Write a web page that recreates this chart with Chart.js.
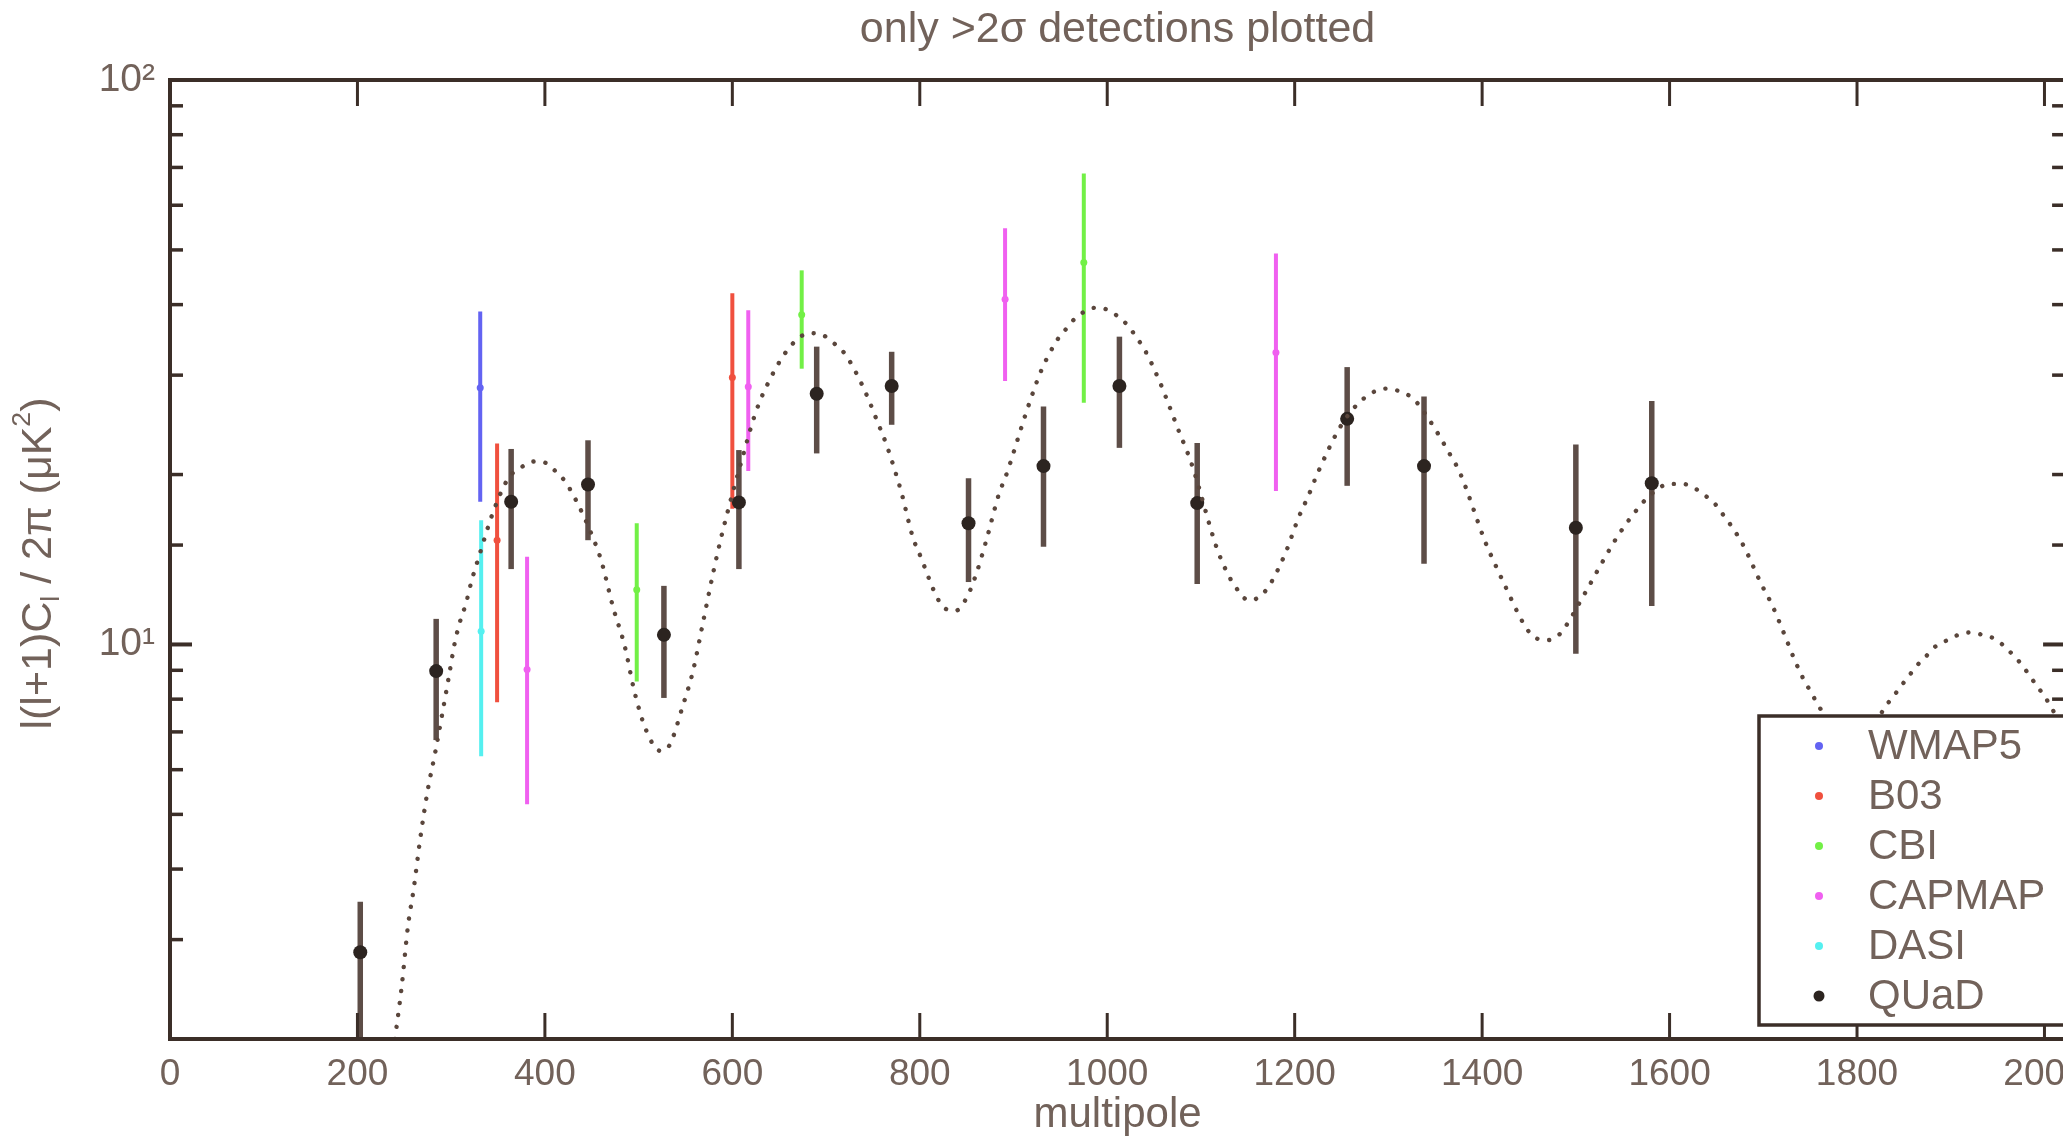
<!DOCTYPE html>
<html>
<head>
<meta charset="utf-8">
<script src="https://cdn.jsdelivr.net/npm/chart.js@4.4.1/dist/chart.umd.min.js"></script>
<style>
  html, body { margin: 0; padding: 0; background: #ffffff; overflow: hidden; width: 2063px; height: 1136px; }
  #wrap { position: absolute; left: 0; top: 0; width: 2100px; height: 1136px; }
</style>
</head>
<body>
<div id="wrap"><canvas id="cl"></canvas></div>
<script>
// ---- text ----
const titleText = 'only >2\u03c3 detections plotted';
const xTitleText = 'multipole';
const xTickValues = [0, 200, 400, 600, 800, 1000, 1200, 1400, 1600, 1800, 2000];
const yTickLabels = { 10: '10\u00b9', 100: '10\u00b2' };
const experiments = ['WMAP5', 'B03', 'CBI', 'CAPMAP', 'DASI', 'QUaD'];

// ---- band powers (multipole, value, lower and upper end of error bar) ----
const wmapEll = [331];
const wmapVal = [28.5];
const wmapLo  = [17.9];
const wmapHi  = [38.9];

const b03Ell = [349, 600];
const b03Val = [15.3, 29.7];
const b03Lo  = [7.9, 17.4];
const b03Hi  = [22.7, 41.9];

const cbiEll = [498, 674, 975];
const cbiVal = [12.5, 38.4, 47.5];
const cbiLo  = [8.6, 30.8, 26.8];
const cbiHi  = [16.4, 46.0, 68.3];

const capmapEll = [381, 617, 891, 1180];
const capmapVal = [9.03, 28.6, 40.9, 32.9];
const capmapLo  = [5.21, 20.3, 29.3, 18.7];
const capmapHi  = [14.3, 39.1, 54.6, 49.3];

const dasiEll = [332];
const dasiVal = [10.55];
const dasiLo  = [6.34];
const dasiHi  = [16.6];

const quadEll = [203, 284, 364, 446, 527, 607, 690, 770, 852, 932, 1013, 1096, 1256, 1338, 1500, 1581];
const quadVal = [2.85, 8.97, 17.9, 19.2, 10.4, 17.85, 27.8, 28.7, 16.4, 20.7, 28.7, 17.8, 25.1, 20.7, 16.1, 19.3];
const quadLo  = [1.5, 6.77, 13.6, 15.3, 8.04, 13.6, 21.8, 24.5, 12.9, 14.9, 22.3, 12.8, 19.1, 13.9, 9.63, 11.7];
const quadHi  = [3.5, 11.1, 22.2, 23.0, 12.7, 22.1, 33.7, 33.0, 19.7, 26.4, 35.1, 22.75, 31.0, 27.5, 22.6, 27.0];

// ---- model EE spectrum (dotted curve) ----
const modelEll = [240, 247, 254, 260, 267, 275, 283, 297, 304, 311, 315, 322, 329, 345, 361, 373, 389, 400, 411, 421,
  434, 451, 460, 473, 485, 496, 508, 523, 533, 547, 558, 569, 580, 589, 611, 624, 634, 661, 683, 697,
  709, 719, 732, 744, 754, 764, 772, 780, 793, 798, 825, 838, 850, 860, 871, 885, 891, 915, 929, 947,
  956, 965, 988, 1003, 1013, 1023, 1031, 1039, 1056, 1066, 1075, 1090, 1117, 1127, 1134, 1151, 1161, 1172, 1190, 1204,
  1215, 1225, 1250, 1274, 1298, 1314, 1327, 1345, 1364, 1376, 1404, 1414, 1421, 1447, 1457, 1470, 1482, 1510, 1523, 1543,
  1560, 1578, 1600, 1614, 1627, 1639, 1649, 1658, 1665, 1679, 1696, 1702, 1708, 1719, 1724, 1734, 1744, 1751, 1758, 1765,
  1782, 1797, 1812, 1830, 1839, 1847, 1855, 1864, 1873, 1882, 1894, 1906, 1920, 1934, 1947, 1957, 1967, 1976, 1984, 1992,
  2000, 2007, 2022];
const modelCl = [2.0, 2.46, 3.18, 3.69, 4.53, 5.52, 6.44, 8.67, 10.1, 11.2, 11.7, 13.0, 14.2, 17.2, 19.7, 20.5, 21.1, 21.0, 20.3, 19.5,
  17.9, 15.5, 14.1, 11.6, 9.96, 8.19, 7.05, 6.48, 6.63, 7.77, 8.97, 11.0, 13.5, 15.7, 21.5, 25.5, 28.1, 33.6, 35.6, 35.3,
  34.1, 32.9, 30.3, 27.5, 25.0, 22.7, 20.7, 18.7, 15.4, 14.7, 11.66, 11.47, 12.1, 13.3, 15.3, 18.6, 19.7, 26.2, 30.4, 34.7,
  36.2, 37.7, 39.5, 39.0, 37.9, 36.6, 35.0, 33.5, 29.2, 26.5, 24.2, 20.9, 14.8, 13.5, 12.86, 11.98, 12.1, 12.65, 14.5, 16.75,
  18.4, 20.2, 24.5, 27.3, 28.4, 28.0, 27.2, 24.8, 21.96, 20.2, 15.1, 13.85, 13.07, 10.7, 10.27, 10.18, 10.4, 12.35, 13.5, 15.4,
  16.9, 18.3, 19.25, 19.25, 18.9, 18.3, 17.7, 16.9, 16.3, 14.95, 12.99, 12.4, 11.88, 10.77, 10.27, 9.34, 8.61, 8.23, 7.83, 7.52,
  6.9, 6.6, 6.9, 7.75, 8.1, 8.44, 8.78, 9.18, 9.5, 9.87, 10.13, 10.37, 10.5, 10.4, 10.23, 9.93, 9.56, 9.2, 8.81, 8.44,
  8.1, 7.75, 7.0];

// ---- styling ----
const FONT = "'Liberation Sans', Arial, Helvetica, sans-serif";
const frameColor = '#3b2e28';
const textColor = '#72625a';
const colors = {
  WMAP5:  '#6363f2',
  B03:    '#f0503e',
  CBI:    '#72f046',
  CAPMAP: '#f060f0',
  DASI:   '#55f0f0',
  QUaD:   '#2c2420'
};
const quadBarColor = '#5d4d47';

const pts = (ell, val) => ell.map((l, i) => ({ x: l, y: val[i] }));

function expDataset(name, ell, val, lo, hi, radius, barWidth, barColor) {
  return {
    type: 'scatter',
    label: name,
    data: pts(ell, val),
    errLow: lo,
    errHigh: hi,
    barColor: barColor || colors[name],
    barWidth: barWidth,
    pointRadius: radius,
    pointHoverRadius: radius,
    pointBackgroundColor: colors[name],
    pointBorderWidth: 0,
    showLine: false
  };
}

// Vertical error bars, drawn underneath the markers.
const errorBarPlugin = {
  id: 'errorBars',
  beforeDatasetsDraw(chart) {
    const { ctx, chartArea: a, scales: { x, y } } = chart;
    ctx.save();
    ctx.beginPath();
    ctx.rect(a.left, a.top, a.right - a.left, a.bottom - a.top);
    ctx.clip();
    const sets = chart.data.datasets;
    for (let i = sets.length - 1; i >= 0; i--) {
      const ds = sets[i];
      if (!ds.errLow) continue;
      ctx.strokeStyle = ds.barColor;
      ctx.lineWidth = ds.barWidth;
      ctx.lineCap = 'butt';
      ds.data.forEach((p, j) => {
        const px = x.getPixelForValue(p.x);
        ctx.beginPath();
        ctx.moveTo(px, y.getPixelForValue(ds.errLow[j]));
        ctx.lineTo(px, y.getPixelForValue(ds.errHigh[j]));
        ctx.stroke();
      });
    }
    ctx.restore();
  }
};

// Box frame with inward-pointing ticks on all four sides.
const framePlugin = {
  id: 'frame',
  afterDatasetsDraw(chart) {
    const { ctx, chartArea: a, scales: { x, y } } = chart;
    const seg = (x1, y1, x2, y2) => { ctx.beginPath(); ctx.moveTo(x1, y1); ctx.lineTo(x2, y2); ctx.stroke(); };
    ctx.save();
    ctx.strokeStyle = frameColor;
    ctx.lineCap = 'butt';
    ctx.lineWidth = 3;
    x.ticks.forEach(t => {
      const px = x.getPixelForValue(t.value);
      seg(px, a.bottom, px, a.bottom - 26);
      seg(px, a.top, px, a.top + 26);
    });
    y.ticks.forEach(t => {
      const py = y.getPixelForValue(t.value);
      const lg = Math.log10(t.value);
      const major = Math.abs(lg - Math.round(lg)) < 1e-9;
      ctx.lineWidth = major ? 4 : 3.5;
      const len = major ? 22 : 13;
      seg(a.left, py, a.left + len, py);
      seg(a.right, py, a.right - len, py);
    });
    ctx.lineWidth = 4;
    ctx.strokeRect(a.left, a.top, a.right - a.left, a.bottom - a.top);
    ctx.restore();
  }
};

// Rotated y-axis title with a subscript l and a squared unit.
const yTitlePlugin = {
  id: 'yTitle',
  afterDraw(chart) {
    const { ctx, chartArea: a } = chart;
    const F = 43;
    const parts = [
      { t: 'l(l+1)C', s: 1, dy: 0 },
      { t: 'l', s: 0.62, dy: 0.3 },
      { t: ' / 2\u03c0 (\u03bcK', s: 1, dy: 0 },
      { t: '2', s: 0.62, dy: -0.38 },
      { t: ')', s: 1, dy: 0 }
    ];
    ctx.save();
    ctx.fillStyle = textColor;
    ctx.textBaseline = 'middle';
    ctx.textAlign = 'left';
    let total = 0;
    parts.forEach(p => { ctx.font = (F * p.s) + 'px ' + FONT; p.w = ctx.measureText(p.t).width; total += p.w; });
    ctx.translate(39, (a.top + a.bottom) / 2 + 4);
    ctx.rotate(-Math.PI / 2);
    let cx = -total / 2;
    parts.forEach(p => {
      ctx.font = (F * p.s) + 'px ' + FONT;
      ctx.fillText(p.t, cx, p.dy * F);
      cx += p.w;
    });
    ctx.restore();
  }
};

// Legend box in the lower right corner of the plot.
const legendPlugin = {
  id: 'boxLegend',
  afterDraw(chart) {
    const { ctx, chartArea: a } = chart;
    const left = a.left + 1589, top = a.top + 636, bottom = a.bottom - 14;
    ctx.save();
    ctx.fillStyle = '#ffffff';
    ctx.fillRect(left, top, 600, bottom - top);
    ctx.strokeStyle = frameColor;
    ctx.lineWidth = 3.5;
    ctx.strokeRect(left, top, 600, bottom - top);
    ctx.font = '42px ' + FONT;
    ctx.textBaseline = 'middle';
    ctx.textAlign = 'left';
    experiments.forEach((name, i) => {
      const cy = top + 30 + i * 50;
      ctx.fillStyle = colors[name];
      ctx.beginPath();
      ctx.arc(left + 60, cy, name === 'QUaD' ? 5.5 : 4, 0, Math.PI * 2);
      ctx.fill();
      ctx.fillStyle = textColor;
      ctx.fillText(name, left + 109, cy + 1);
    });
    ctx.restore();
  }
};

const datasets = [
  {
    type: 'line',
    label: 'model',
    data: pts(modelEll, modelCl),
    borderColor: '#5a463c',
    borderWidth: 4.4,
    borderDash: [0.1, 12],
    borderCapStyle: 'round',
    pointRadius: 0,
    fill: false,
    cubicInterpolationMode: 'monotone'
  },
  expDataset('QUaD', quadEll, quadVal, quadLo, quadHi, 7, 5.5, quadBarColor),
  expDataset('DASI', dasiEll, dasiVal, dasiLo, dasiHi, 3.5, 4),
  expDataset('CAPMAP', capmapEll, capmapVal, capmapLo, capmapHi, 3.5, 4),
  expDataset('CBI', cbiEll, cbiVal, cbiLo, cbiHi, 3.5, 4),
  expDataset('B03', b03Ell, b03Val, b03Lo, b03Hi, 3.5, 4),
  expDataset('WMAP5', wmapEll, wmapVal, wmapLo, wmapHi, 3.5, 4)
];

new Chart(document.getElementById('cl'), {
  type: 'scatter',
  data: { datasets },
  plugins: [errorBarPlugin, framePlugin, yTitlePlugin, legendPlugin],
  options: {
    responsive: true,
    maintainAspectRatio: false,
    animation: false,
    events: [],
    layout: { padding: { left: 0, right: 32, top: 0, bottom: 0 } },
    plugins: {
      legend: { display: false },
      tooltip: { enabled: false },
      title: {
        display: true,
        text: titleText,
        fullSize: false,
        align: 'center',
        color: textColor,
        font: { family: FONT, size: 43, weight: 'normal', lineHeight: 1.0 },
        padding: { top: 9, bottom: 28 }
      }
    },
    scales: {
      x: {
        type: 'linear',
        min: 0,
        max: 2022,
        afterBuildTicks(scale) { scale.ticks = xTickValues.map(v => ({ value: v })); },
        afterFit(scale) { scale.height = 97; },
        grid: { display: false, drawTicks: false },
        border: { display: false },
        ticks: {
          autoSkip: false,
          maxRotation: 0,
          padding: 14,
          color: textColor,
          font: { family: FONT, size: 37 },
          callback: v => String(v)
        },
        title: {
          display: true,
          text: xTitleText,
          color: textColor,
          font: { family: FONT, size: 42, lineHeight: 1.0 },
          padding: { top: 0, bottom: 0 }
        }
      },
      y: {
        type: 'logarithmic',
        min: 2,
        max: 100,
        afterFit(scale) { scale.width = 170; },
        grid: { display: false, drawTicks: false },
        border: { display: false },
        ticks: {
          autoSkip: false,
          padding: 15,
          color: textColor,
          font: { family: FONT, size: 39 },
          callback: v => yTickLabels[v] || ''
        }
      }
    }
  }
});
</script>
</body>
</html>
